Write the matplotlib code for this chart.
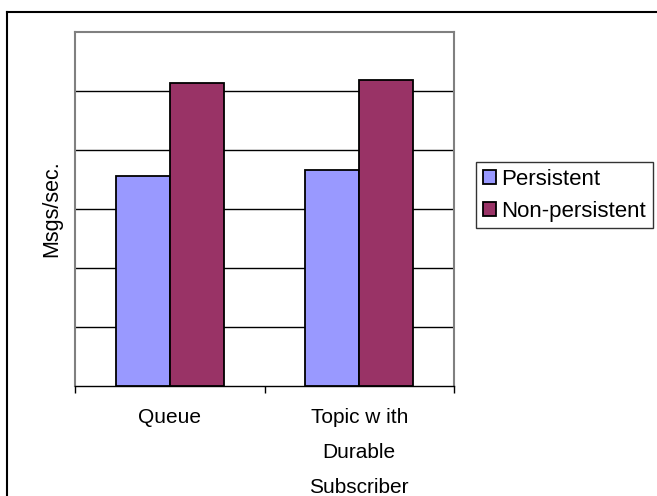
import matplotlib.pyplot as plt
import numpy as np
from matplotlib.lines import Line2D

categories = ["Queue", "Topic w ith\nDurable\nSubscriber"]
persistent = [3.56, 3.66]
non_persistent = [5.13, 5.19]
series_names = ["Persistent", "Non-persistent"]

plt.rcParams['font.family'] = ['Liberation Sans', 'DejaVu Sans']

W, H = 657, 496
fig = plt.figure(figsize=(W / 100, H / 100), dpi=100)
ax = fig.add_axes([75 / W, (H - 386) / H, 379 / W, 354 / H])

x = np.arange(len(categories))
bw = 1 / 3.5
ax.bar(x - bw / 2, persistent, bw, color='#9999ff', edgecolor='black',
       linewidth=1.3, label=series_names[0], zorder=3)
ax.bar(x + bw / 2, non_persistent, bw, color='#993366', edgecolor='black',
       linewidth=1.3, label=series_names[1], zorder=3)

ax.set_xlim(-0.5, len(categories) - 0.5)
ax.set_ylim(0, 6)
ax.set_yticks(np.arange(1, 6))
ax.set_yticklabels([])
ax.tick_params(axis='y', length=0)
ax.yaxis.grid(True, color='black', linewidth=1)
ax.set_axisbelow(True)

# category labels, separators as minor ticks
ax.set_xticks(x)
ax.set_xticklabels(categories, fontsize=15, linespacing=2.05)
ax.tick_params(axis='x', which='major', length=0, pad=16)
ax.set_xticks(np.arange(-0.5, len(categories)), minor=True)
ax.tick_params(axis='x', which='minor', length=5, width=1, color='black', direction='out')

for side in ['top', 'left', 'right']:
    ax.spines[side].set_color('#808080')
    ax.spines[side].set_linewidth(1.5)
ax.spines['bottom'].set_color('black')
ax.spines['bottom'].set_linewidth(1)

ax.set_ylabel("Msgs/sec.", fontsize=15.5, labelpad=6)

leg = fig.legend(loc='upper left', bbox_to_anchor=(476 / W, 1 - 162 / H),
                 fontsize=16, frameon=True, fancybox=False, shadow=False,
                 handlelength=0.6, handleheight=0.6, handletextpad=0.25,
                 borderpad=0.3, labelspacing=0.5, borderaxespad=0)
leg.get_frame().set_edgecolor('black')
leg.get_frame().set_linewidth(1)

# outer frame (left and top edges only visible)
fig.add_artist(Line2D([7 / W, 7 / W], [0, 1 - 12 / H], transform=fig.transFigure,
                      color='black', linewidth=1.5))
fig.add_artist(Line2D([7 / W, 1], [1 - 12 / H, 1 - 12 / H], transform=fig.transFigure,
                      color='black', linewidth=1.5))

fig.savefig("out.png", dpi=100)
